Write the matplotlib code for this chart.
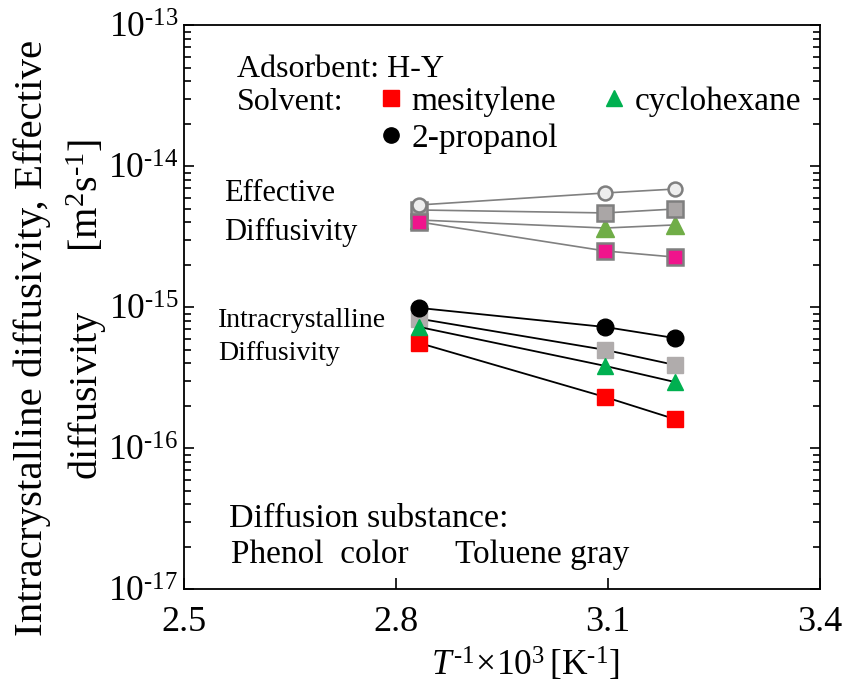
import numpy as np
import matplotlib
matplotlib.use("Agg")
import matplotlib.pyplot as plt
from matplotlib.lines import Line2D
from matplotlib.ticker import FuncFormatter

plt.rcParams["font.family"] = ["Liberation Serif", "DejaVu Serif"]
plt.rcParams["mathtext.fontset"] = "custom"
plt.rcParams["mathtext.rm"] = "Liberation Serif"
plt.rcParams["mathtext.it"] = "Liberation Serif:italic"
plt.rcParams["axes.unicode_minus"] = False

# 1/T x 10^3 [1/K]
inv_T = [2.833, 3.096, 3.195]

# effective diffusivity [m2/s]
eff_phenol_mes = [4.03e-15, 2.51e-15, 2.27e-15]
eff_phenol_cyc = [4.16e-15, 3.65e-15, 3.84e-15]
eff_toluene_mes = [4.90e-15, 4.67e-15, 4.98e-15]
eff_toluene_prop = [5.32e-15, 6.47e-15, 6.90e-15]

# intracrystalline diffusivity [m2/s]
intra_toluene = [8.3e-16, 4.99e-16, 3.9e-16]
intra_mes = [5.58e-16, 2.31e-16, 1.61e-16]
intra_cyc = [7.25e-16, 3.84e-16, 2.95e-16]
intra_prop = [9.9e-16, 7.25e-16, 6.05e-16]

fig = plt.figure(figsize=(8.49, 6.93), dpi=100)
ax = fig.add_axes([0.2167, 0.1496, 0.7491, 0.8139])

# effective diffusivity (gray lines)
gl = "#808080"
ax.plot(inv_T, eff_phenol_cyc, "-^", color=gl, lw=1.2, ms=13,
        mfc="#70ad47", mec="#70ad47", zorder=3)
ax.plot(inv_T, eff_toluene_mes, "-s", color=gl, lw=1.2, ms=11,
        mfc="#aaa6a6", mec="#7f7f7f", mew=1.8, zorder=4)
ax.plot(inv_T, eff_toluene_prop, "-o", color=gl, lw=1.2, ms=10,
        mfc="#eeeeee", mec="#7f7f7f", mew=1.8, zorder=5)
ax.plot(inv_T, eff_phenol_mes, "-s", color=gl, lw=1.2, ms=11,
        mfc="#f0148c", mec="#7f7f7f", mew=1.8, zorder=6)

# intracrystalline diffusivity (black lines)
ax.plot(inv_T, intra_toluene, "-s", color="black", lw=1.3, ms=11,
        mfc="#b0acac", mec="#b0acac", zorder=3)
ax.plot(inv_T, intra_mes, "-s", color="black", lw=1.3, ms=11,
        mfc="#ff0000", mec="#ff0000", zorder=4)
ax.plot(inv_T, intra_cyc, "-^", color="black", lw=1.3, ms=12,
        mfc="#00b050", mec="#00b050", zorder=5)
ax.plot(inv_T, intra_prop, "-o", color="black", lw=1.3, ms=12,
        mfc="black", mec="black", zorder=6)

ax.set_yscale("log")
ax.set_xlim(2.5, 3.4)
ax.set_ylim(1e-17, 1e-13)
ax.set_xticks([2.5, 2.8, 3.1, 3.4])
ax.set_xticklabels(["2.5", "2.8", "3.1", "3.4"])
ax.yaxis.set_major_formatter(FuncFormatter(
    lambda v, pos: r"$\mathregular{10^{\text{-}%d}}$" % round(-np.log10(v))))
ax.tick_params(which="both", direction="in", right=True, top=False,
               width=1.2)
ax.tick_params(axis="x", which="major", length=8, pad=12, labelsize=26)
ax.tick_params(axis="y", which="major", length=7, pad=4, labelsize=25.5)
ax.tick_params(axis="y", which="minor", length=5)
for sp in ax.spines.values():
    sp.set_linewidth(1.3)

ax.set_xlabel(r"$\mathit{T}^{\mathregular{\text{-}1}}\!\times\!\mathregular{10^{3}}\,[\mathregular{K^{\text{-}1}}]$",
              fontsize=25.5)
ax.xaxis.set_label_coords(0.536, -0.1)

fig.text(0.038, 0.513, "Intracrystalline diffusivity, Effective",
         rotation=90, fontsize=29.5, ha="center", va="center")
fig.text(0.102, 0.553, r"diffusivity      [m$^{\mathregular{2}}$s$^{\mathregular{\text{-}1}}$]",
         rotation=90, fontsize=29, ha="center", va="center")

ax.text(0.083, 0.921, "Adsorbent: H-Y", transform=ax.transAxes,
        fontsize=23, va="center")
ax.text(0.083, 0.864, "Solvent:", transform=ax.transAxes,
        fontsize=23, va="center")

handles = [
    Line2D([], [], ls="none", marker="s", ms=11, color="#ff0000"),
    Line2D([], [], ls="none", marker="o", ms=11, color="black"),
    Line2D([], [], ls="none", marker="^", ms=11, color="#00b050"),
]
labels = ["mesitylene", "2-propanol", "cyclohexane"]
ax.legend(handles, labels, ncol=2, loc="upper left",
          bbox_to_anchor=(0.305, 0.892), frameon=False, fontsize=24,
          handlelength=0.8, handletextpad=0.2, columnspacing=1.3,
          labelspacing=0.2, borderaxespad=0, borderpad=0)

ax.text(0.063, 0.668, "Effective\nDiffusivity", transform=ax.transAxes,
        fontsize=22, va="center", linespacing=1.45)
ax.text(0.0535, 0.447, "Intracrystalline\nDiffusivity", transform=ax.transAxes,
        fontsize=20, va="center", linespacing=1.45)

ax.text(0.071, 0.1246, "Diffusion substance:", transform=ax.transAxes,
        fontsize=24.5, va="center")
ax.text(0.074, 0.061, "Phenol  color", transform=ax.transAxes,
        fontsize=24, va="center")
ax.text(0.426, 0.061, "Toluene gray", transform=ax.transAxes,
        fontsize=24, va="center")

fig.savefig("out.png", dpi=100)
